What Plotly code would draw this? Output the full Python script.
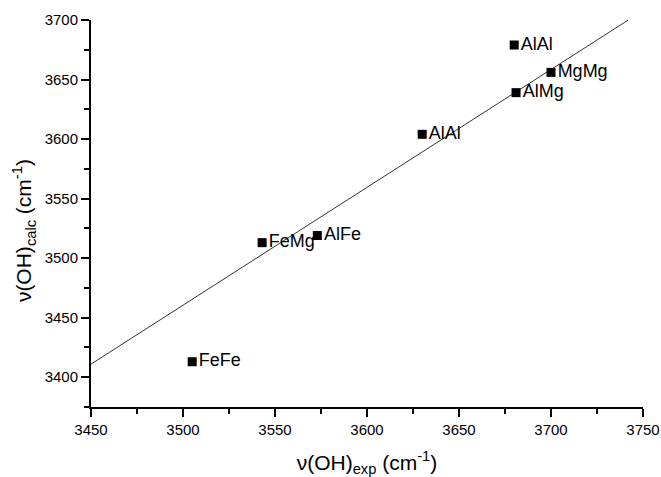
import plotly.graph_objects as go

# Data
labels = ["FeFe", "FeMg", "AlFe", "AlAl", "AlMg", "AlAl", "MgMg"]
nu_exp = [3505, 3543, 3573, 3630, 3681, 3680, 3700]
nu_calc = [3413, 3513, 3519, 3604, 3639, 3679, 3656]

fit_x = [3450, 3742]
fit_y = [3411, 3700]

fig = go.Figure()
fig.add_trace(go.Scatter(
    x=fit_x, y=fit_y, mode="lines",
    line=dict(color="#333333", width=1), showlegend=False, hoverinfo="skip"))
fig.add_trace(go.Scatter(
    x=nu_exp, y=nu_calc, mode="markers+text",
    marker=dict(symbol="square", size=9, color="black"),
    text=labels, textposition="middle right",
    textfont=dict(family="Liberation Sans, Arial", size=18, color="black"),
    showlegend=False))

axis_common = dict(
    showline=True, linecolor="black", linewidth=2,
    ticks="outside", ticklen=8, tickwidth=2, tickcolor="black",
    showgrid=False, zeroline=False, automargin=False,
    tickfont=dict(family="Liberation Sans, Arial", size=15, color="black"),
    minor=dict(ticks="outside", ticklen=5, tickwidth=2, tickcolor="black", dtick=25),
)

fig.update_layout(
    width=661, height=477,
    margin=dict(l=91, r=18, t=20, b=70),
    plot_bgcolor="white", paper_bgcolor="white",
    font=dict(family="Liberation Sans, Arial", color="black"),
    xaxis=dict(range=[3450, 3750], dtick=50, tick0=3450,
               title=dict(text="ν(OH)<sub>exp</sub> (cm<sup>-1</sup>)",
                          font=dict(size=21), standoff=22),
               **axis_common),
    yaxis=dict(range=[3375, 3700], dtick=50, tick0=3400, **axis_common),
    annotations=[dict(
        text="ν(OH)<sub>calc</sub> (cm<sup>-1</sup>)",
        xref="paper", yref="paper", x=-0.121, y=0.455,
        xanchor="center", yanchor="middle", textangle=-90, showarrow=False,
        font=dict(family="Liberation Sans, Arial", size=21, color="black"))],
)

fig.write_html("out.html")
